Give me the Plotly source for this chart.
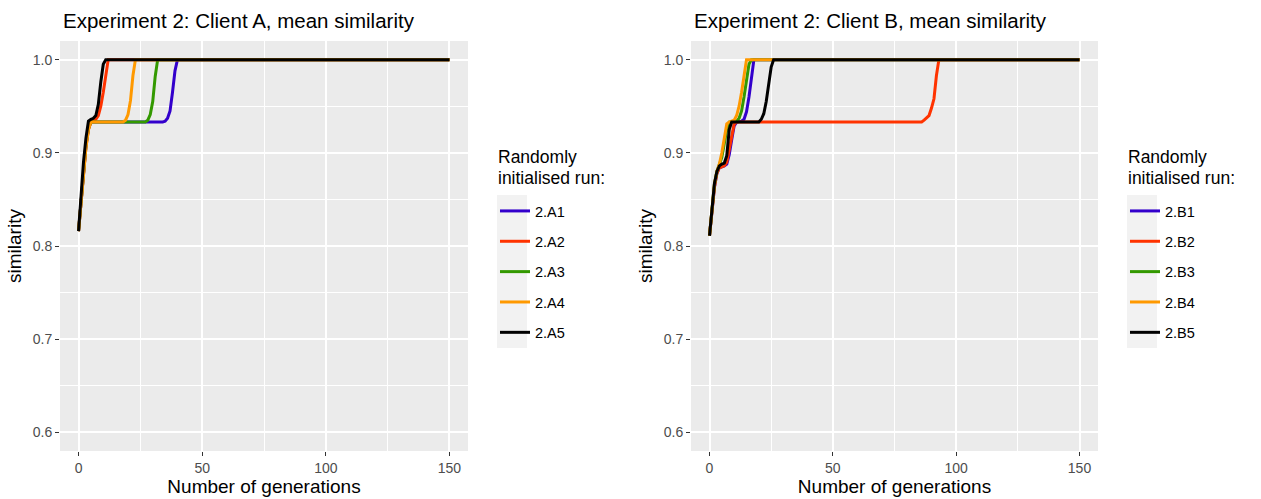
import plotly.graph_objects as go

W, H = 1261, 499

# Run colours and legend labels
colors = ["#3300CC", "#FF3300", "#339900", "#FF9900", "#000000"]
labels_a = ["2.A1", "2.A2", "2.A3", "2.A4", "2.A5"]
labels_b = ["2.B1", "2.B2", "2.B3", "2.B4", "2.B5"]

# Client A: generation / mean similarity vertices for each run
a1_gen = [0, 1, 2, 3, 4, 5, 34, 35, 36, 37, 38, 39, 40, 150]
a1_val = [0.816, 0.850, 0.880, 0.908, 0.926, 0.933, 0.933, 0.934, 0.937, 0.945, 0.965, 0.988, 1.0, 1.0]
a2_gen = [0, 1, 2, 3, 4, 5, 6, 7, 8, 9, 10, 11, 12, 150]
a2_val = [0.816, 0.848, 0.878, 0.906, 0.925, 0.933, 0.934, 0.936, 0.940, 0.950, 0.965, 0.982, 1.0, 1.0]
a3_gen = [0, 1, 2, 3, 4, 5, 27, 28, 29, 30, 31, 32, 150]
a3_val = [0.816, 0.850, 0.880, 0.908, 0.926, 0.933, 0.933, 0.935, 0.941, 0.955, 0.982, 1.0, 1.0]
a4_gen = [0, 1, 2, 3, 4, 5, 18, 19, 20, 21, 22, 23, 150]
a4_val = [0.816, 0.848, 0.878, 0.906, 0.925, 0.933, 0.933, 0.935, 0.941, 0.956, 0.983, 1.0, 1.0]
a5_gen = [0, 1, 2, 3, 4, 5, 6, 7, 8, 9, 10, 11, 150]
a5_val = [0.816, 0.858, 0.890, 0.916, 0.934, 0.936, 0.937, 0.940, 0.952, 0.976, 0.995, 1.0, 1.0]

# Client B: generation / mean similarity vertices for each run
b1_gen = [0, 1, 2, 3, 4, 5, 6, 7, 8, 9, 10, 11, 13, 14, 15, 16, 17, 18, 150]
b1_val = [0.811, 0.840, 0.863, 0.878, 0.884, 0.885, 0.886, 0.888, 0.898, 0.914, 0.929, 0.933, 0.934, 0.936, 0.944, 0.960, 0.980, 1.0, 1.0]
b2_gen = [0, 1, 2, 3, 4, 5, 6, 7, 8, 9, 10, 11, 86, 87, 88, 89, 90, 91, 92, 93, 150]
b2_val = [0.811, 0.840, 0.863, 0.878, 0.884, 0.885, 0.886, 0.890, 0.903, 0.919, 0.931, 0.933, 0.933, 0.935, 0.937, 0.940, 0.948, 0.958, 0.983, 1.0, 1.0]
b3_gen = [0, 1, 2, 3, 4, 5, 6, 7, 8, 11, 12, 13, 14, 15, 16, 17, 150]
b3_val = [0.811, 0.842, 0.866, 0.880, 0.887, 0.895, 0.910, 0.925, 0.933, 0.934, 0.937, 0.945, 0.960, 0.980, 0.995, 1.0, 1.0]
b4_gen = [0, 1, 2, 3, 4, 5, 6, 7, 8, 10, 11, 12, 13, 14, 15, 150]
b4_val = [0.811, 0.842, 0.866, 0.880, 0.888, 0.900, 0.918, 0.931, 0.933, 0.935, 0.940, 0.950, 0.965, 0.985, 1.0, 1.0]
b5_gen = [0, 1, 2, 3, 4, 5, 6, 7, 8, 9, 20, 21, 22, 23, 24, 25, 26, 150]
b5_val = [0.811, 0.843, 0.867, 0.880, 0.886, 0.888, 0.889, 0.897, 0.925, 0.933, 0.933, 0.936, 0.942, 0.955, 0.975, 0.992, 1.0, 1.0]

series_a = [(a1_gen, a1_val), (a2_gen, a2_val), (a3_gen, a3_val), (a4_gen, a4_val), (a5_gen, a5_val)]
series_b = [(b1_gen, b1_val), (b2_gen, b2_val), (b3_gen, b3_val), (b4_gen, b4_val), (b5_gen, b5_val)]

x_ticks = [0, 50, 100, 150]
y_ticks = [0.6, 0.7, 0.8, 0.9, 1.0]
legend_title_lines = ["Randomly", "initialised run:"]

FONT = "Liberation Sans, Arial, sans-serif"
PANEL_BG = "#EBEBEB"

fig = go.Figure()

for i, (g, v) in enumerate(series_a):
    fig.add_trace(go.Scatter(
        x=g, y=v, mode="lines", name=labels_a[i],
        line=dict(color=colors[i], width=3),
        xaxis="x", yaxis="y", legend="legend", legendgroup="a" + str(i),
    ))
for i, (g, v) in enumerate(series_b):
    fig.add_trace(go.Scatter(
        x=g, y=v, mode="lines", name=labels_b[i],
        line=dict(color=colors[i], width=3),
        xaxis="x2", yaxis="y2", legend="legend2", legendgroup="b" + str(i),
    ))

# Panel placement in pixels
pa = (60, 468)
pb = (691, 1098)
top, bottom = 41, 451
ydom = [1 - bottom / H, 1 - top / H]

axis_common = dict(
    showline=False, zeroline=False, showgrid=True,
    gridcolor="white", gridwidth=1.6,
    ticks="outside", ticklen=4, tickwidth=1.1, tickcolor="#333333",
    tickfont=dict(family=FONT, size=14, color="#4D4D4D"),
    title_font=dict(family=FONT, size=19, color="black"),
    minor=dict(showgrid=True, gridcolor="white", gridwidth=0.7, ticks=""),
)

xaxis_kw = dict(axis_common, range=[-7.5, 157.5], tickvals=x_ticks,
                ticktext=[str(t) for t in x_ticks], title_text="Number of generations",
                title_standoff=4)
xaxis_kw["minor"] = dict(axis_common["minor"], tickvals=[25, 75, 125])
yaxis_kw = dict(axis_common, range=[0.58, 1.02], tickvals=y_ticks,
                ticktext=["%.1f" % t for t in y_ticks], title_text="similarity",
                title_standoff=6)
yaxis_kw["minor"] = dict(axis_common["minor"], tickvals=[0.65, 0.75, 0.85, 0.95])

legend_common = dict(
    bgcolor="rgba(0,0,0,0)", borderwidth=0,
    font=dict(family=FONT, size=14.5, color="black"),
    tracegroupgap=8.5, itemwidth=30, xanchor="left", yanchor="top",
)

fig.update_layout(
    width=W, height=H, autosize=False,
    margin=dict(l=0, r=0, t=0, b=0),
    paper_bgcolor="white", plot_bgcolor=PANEL_BG,
    font=dict(family=FONT),
    xaxis=dict(xaxis_kw, domain=[pa[0] / W, pa[1] / W], anchor="y"),
    yaxis=dict(yaxis_kw, domain=ydom, anchor="x"),
    xaxis2=dict(xaxis_kw, domain=[pb[0] / W, pb[1] / W], anchor="y2"),
    yaxis2=dict(yaxis_kw, domain=ydom, anchor="x2"),
    legend=dict(legend_common, x=495 / W, y=1 - 195 / H),
    legend2=dict(legend_common, x=1125 / W, y=1 - 195 / H),
    showlegend=True,
)

for x0 in (497, 1127):
    # Grey key background behind the legend samples
    fig.add_shape(type="rect", xref="paper", yref="paper",
                  x0=x0 / W, x1=(x0 + 30) / W, y0=1 - 348 / H, y1=1 - 195 / H,
                  fillcolor="#F2F2F2", line=dict(width=0), layer="below")
    # Legend heading, two lines
    for line_txt, yc in zip(legend_title_lines, (157, 178)):
        fig.add_annotation(x=x0 / W, y=1 - yc / H, xref="paper", yref="paper",
                           xanchor="left", yanchor="middle", showarrow=False,
                           xshift=-1, text=line_txt,
                           font=dict(family=FONT, size=17.5, color="black"))

# Panel titles
for x0, txt in ((61, "Experiment 2: Client A, mean similarity"),
                (692, "Experiment 2: Client B, mean similarity")):
    fig.add_annotation(x=x0 / W, y=1 - 20 / H, xref="paper", yref="paper",
                       xanchor="left", yanchor="middle", showarrow=False,
                       text=txt, font=dict(family=FONT, size=20.5, color="black"))

fig.write_html("out.html")
